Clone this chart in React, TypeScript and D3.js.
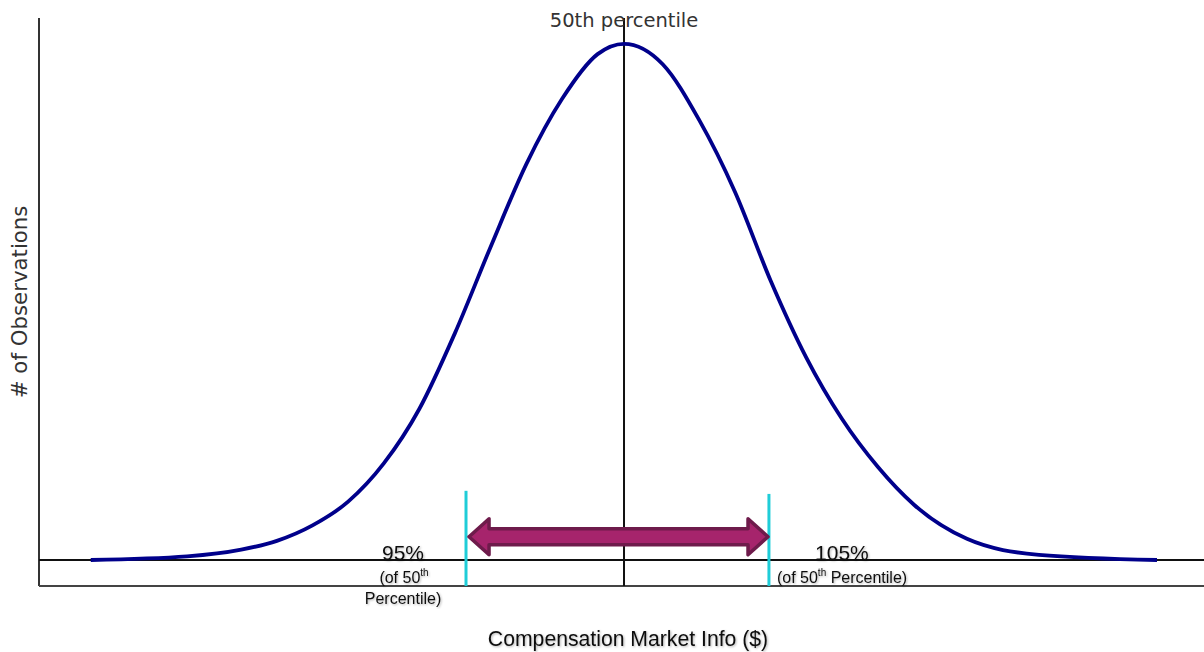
import { useEffect, useRef } from "react";
import * as d3 from "d3";

// curve: x in standard deviations from the median,
// y as share of the peak height
const curveX = [
  -4.04, -3.31, -2.9, -2.63, -2.36, -2.09, -1.82, -1.55, -1.28, -1.01, -0.74,
  -0.47, -0.2, 0, 0.295, 0.568, 0.841, 1.111, 1.379, 1.652, 1.924, 2.197,
  2.598, 3.144, 4.038,
];
const curveY = [
  0, 0.007, 0.02, 0.037, 0.067, 0.113, 0.187, 0.293, 0.44, 0.607, 0.767, 0.893,
  0.98, 1, 0.96, 0.853, 0.713, 0.541, 0.393, 0.273, 0.18, 0.107, 0.041, 0.01,
  0,
];

// 95% / 105% markers and the arrow between them
const markerX = [-1.197, 1.098];
const markerTop = [0.134, 0.128];
const markerPct = ["95%", "105%"];
const arrowX = [-1.174, 1.091];
const arrowY = 0.045;

const xDomain = [-4.432, 4.394];
const yDomain = [-0.0504, 1.05];

const W = 1204;
const H = 652;

const DistributionChart = () => {
  const svgRef = useRef<SVGSVGElement>(null);

  useEffect(() => {
    if (!svgRef.current) return;
    const svg = d3.select(svgRef.current);
    svg.selectAll("*").remove();

    const x = d3.scaleLinear().domain(xDomain).range([39, W]);
    const y = d3.scaleLinear().domain(yDomain).range([586, 18]);

    const defs = svg.append("defs");
    const shadow = defs.append("filter").attr("id", "shadow");
    shadow
      .append("feDropShadow")
      .attr("dx", 1)
      .attr("dy", 1)
      .attr("stdDeviation", 0.8)
      .attr("flood-color", "#000")
      .attr("flood-opacity", 0.3);

    // axes frame
    svg
      .append("line")
      .attr("x1", x(xDomain[0]))
      .attr("x2", x(xDomain[0]))
      .attr("y1", y(yDomain[1]))
      .attr("y2", y(yDomain[0]))
      .attr("stroke", "#333")
      .attr("stroke-width", 2);
    svg
      .append("line")
      .attr("x1", x(xDomain[0]))
      .attr("x2", x(xDomain[1]))
      .attr("y1", y(yDomain[0]))
      .attr("y2", y(yDomain[0]))
      .attr("stroke", "#444")
      .attr("stroke-width", 2);
    // zero baseline
    svg
      .append("line")
      .attr("x1", x(xDomain[0]))
      .attr("x2", x(xDomain[1]))
      .attr("y1", y(0))
      .attr("y2", y(0))
      .attr("stroke", "#111")
      .attr("stroke-width", 2);

    // median line
    svg
      .append("line")
      .attr("x1", x(0))
      .attr("x2", x(0))
      .attr("y1", y(yDomain[1]))
      .attr("y2", y(yDomain[0]))
      .attr("stroke", "#111")
      .attr("stroke-width", 2);

    const points = curveX.map((v, i) => [v, curveY[i]] as [number, number]);
    const line = d3
      .line<[number, number]>()
      .x((d) => x(d[0]))
      .y((d) => y(d[1]))
      .curve(d3.curveMonotoneX);

    svg
      .append("path")
      .attr("d", line(points))
      .attr("fill", "none")
      .attr("stroke", "#00008b")
      .attr("stroke-width", 3.8);

    // cyan markers
    markerX.forEach((m, i) => {
      svg
        .append("line")
        .attr("x1", x(m))
        .attr("x2", x(m))
        .attr("y1", y(markerTop[i]))
        .attr("y2", y(yDomain[0]))
        .attr("stroke", "#1fcdd8")
        .attr("stroke-width", 3);
    });

    // double arrow
    const ax0 = x(arrowX[0]);
    const ax1 = x(arrowX[1]);
    const ay = y(arrowY);
    const head = 20;
    const headH = 18;
    const shaftH = 8;
    const arrowPath = [
      [ax0, ay],
      [ax0 + head, ay - headH],
      [ax0 + head, ay - shaftH],
      [ax1 - head, ay - shaftH],
      [ax1 - head, ay - headH],
      [ax1, ay],
      [ax1 - head, ay + headH],
      [ax1 - head, ay + shaftH],
      [ax0 + head, ay + shaftH],
      [ax0 + head, ay + headH],
    ];
    svg
      .append("path")
      .attr("d", "M" + arrowPath.map((p) => p.join(",")).join("L") + "Z")
      .attr("fill", "#a6246c")
      .attr("stroke", "#6e1b4b")
      .attr("stroke-width", 3.5)
      .attr("stroke-linejoin", "round");

    // labels
    svg
      .append("text")
      .attr("x", x(0))
      .attr("y", 27)
      .attr("text-anchor", "middle")
      .attr("font-family", "DejaVu Sans")
      .attr("font-size", 19.5)
      .attr("fill", "#333")
      .text("50th percentile");

    svg
      .append("text")
      .attr("transform", `translate(27,${y(0.5)}) rotate(-90)`)
      .attr("text-anchor", "middle")
      .attr("font-family", "DejaVu Sans")
      .attr("font-size", 21.3)
      .attr("fill", "#333")
      .text("# of Observations");

    svg
      .append("text")
      .attr("x", 628)
      .attr("y", 646)
      .attr("text-anchor", "middle")
      .attr("font-family", "Liberation Sans")
      .attr("font-size", 21.2)
      .attr("fill", "#111")
      .attr("filter", "url(#shadow)")
      .text("Compensation Market Info ($)");

    const sans = "Liberation Sans";

    // 95% label, left of its marker
    svg
      .append("text")
      .attr("x", x(markerX[0]) - 63)
      .attr("y", 560)
      .attr("text-anchor", "middle")
      .attr("font-family", sans)
      .attr("font-size", 21)
      .attr("fill", "#111")
      .attr("filter", "url(#shadow)")
      .text(markerPct[0]);
    const l1 = svg
      .append("text")
      .attr("x", x(markerX[0]) - 62)
      .attr("y", 583)
      .attr("text-anchor", "middle")
      .attr("font-family", sans)
      .attr("font-size", 16)
      .attr("fill", "#111")
      .attr("filter", "url(#shadow)");
    l1.append("tspan").text("(of 50");
    l1.append("tspan").attr("dy", -7).attr("font-size", 10).text("th");
    l1.append("tspan").attr("dy", 7).text("");
    svg
      .append("text")
      .attr("x", x(markerX[0]) - 63)
      .attr("y", 604)
      .attr("text-anchor", "middle")
      .attr("font-family", sans)
      .attr("font-size", 16)
      .attr("fill", "#111")
      .attr("filter", "url(#shadow)")
      .text("Percentile)");

    // 105% label, right of its marker
    svg
      .append("text")
      .attr("x", x(markerX[1]) + 73)
      .attr("y", 560)
      .attr("text-anchor", "middle")
      .attr("font-family", sans)
      .attr("font-size", 21)
      .attr("fill", "#111")
      .attr("filter", "url(#shadow)")
      .text(markerPct[1]);
    const r1 = svg
      .append("text")
      .attr("x", x(markerX[1]) + 8)
      .attr("y", 583)
      .attr("font-family", sans)
      .attr("font-size", 16)
      .attr("fill", "#111")
      .attr("filter", "url(#shadow)");
    r1.append("tspan").text("(of 50");
    r1.append("tspan").attr("dy", -7).attr("font-size", 10).text("th");
    r1.append("tspan").attr("dy", 7).text(" Percentile)");
  }, []);

  return (
    <svg
      ref={svgRef}
      width={W}
      height={H}
      style={{ position: "absolute", left: 0, top: 0, background: "#fff" }}
    />
  );
};

export default function App() {
  return <DistributionChart />;
}
